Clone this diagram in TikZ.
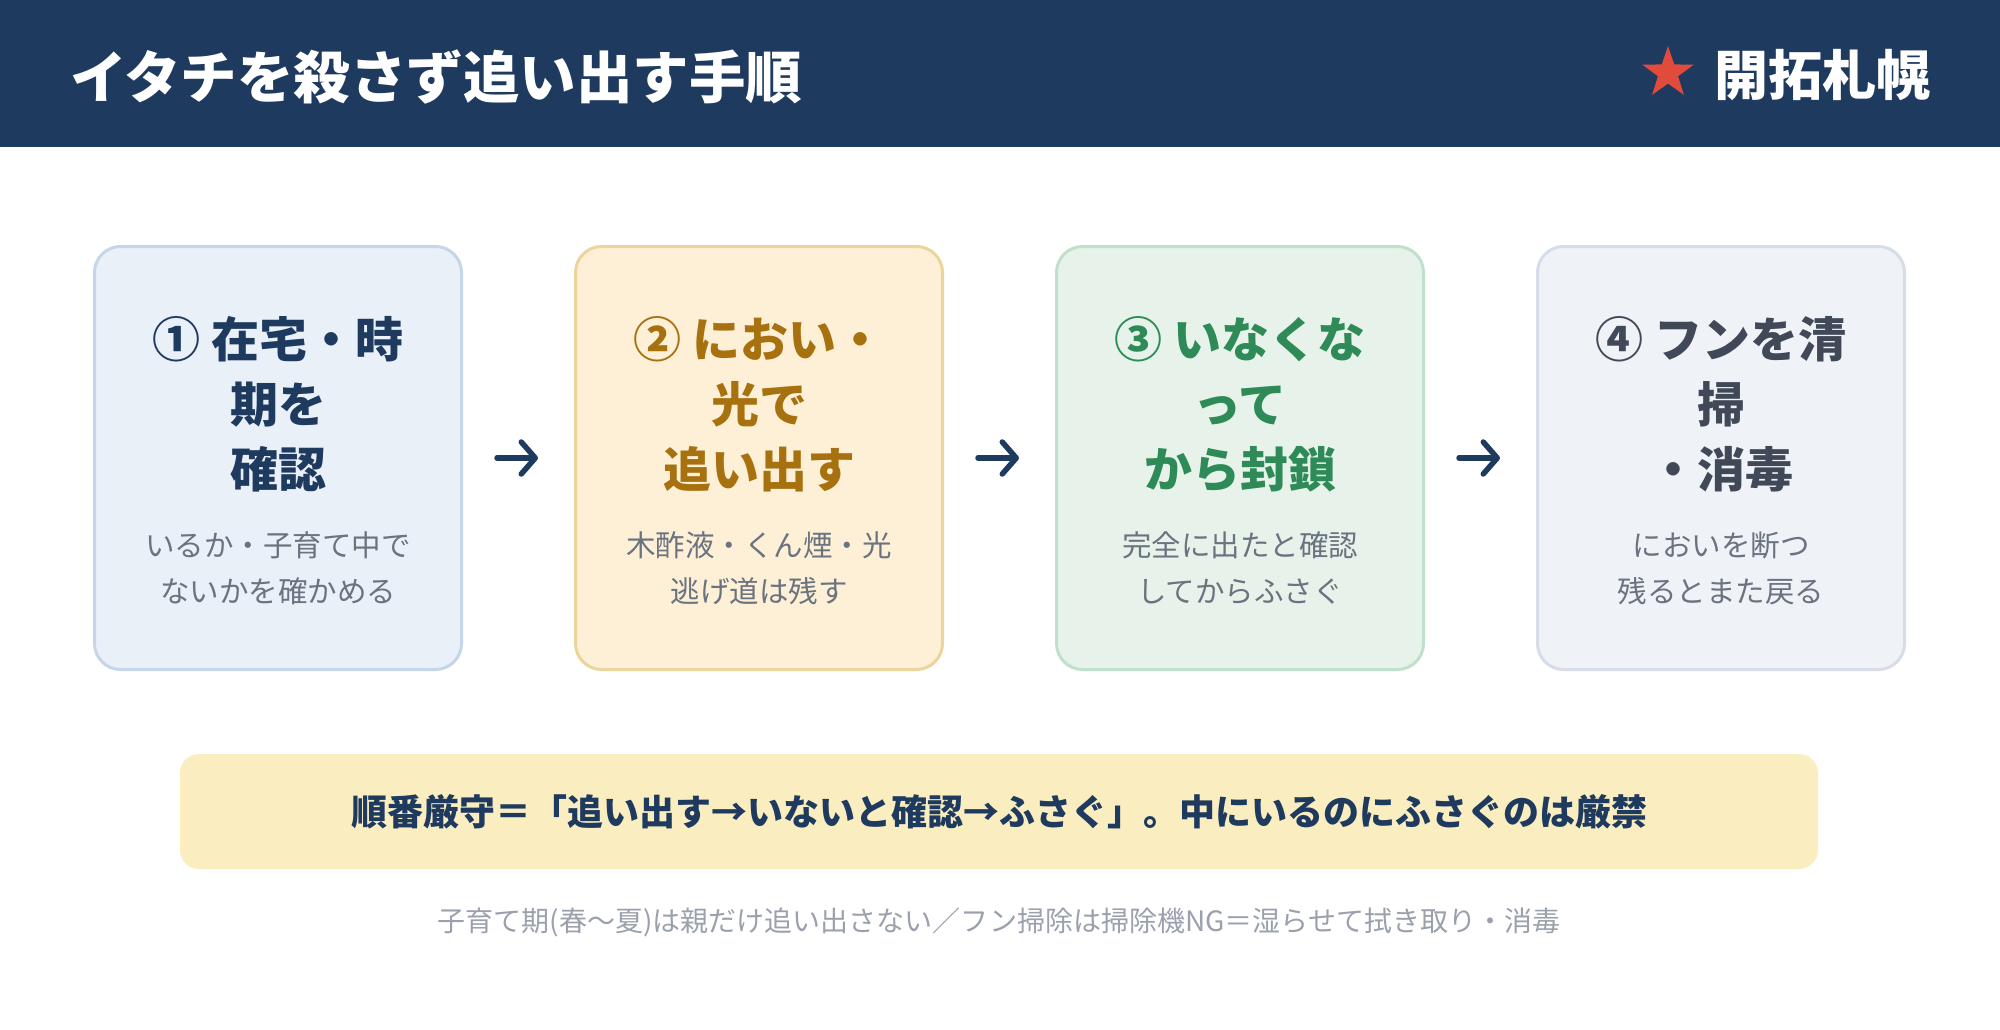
\documentclass[tikz,border=0pt]{standalone}
\usepackage{fontspec}
\setmainfont{Noto Sans CJK JP}
\usepackage{xcolor}
\usetikzlibrary{arrows.meta,positioning,shapes.geometric}
\definecolor{navy}{HTML}{1F3A5F}
\definecolor{starred}{HTML}{E04B3B}
\definecolor{subgray}{HTML}{6B7280}
\definecolor{notegray}{HTML}{9AA1AD}
\definecolor{bluebg}{HTML}{EAF0F8}
\definecolor{blueline}{HTML}{C6D6E9}
\definecolor{goldbg}{HTML}{FDF0D6}
\definecolor{goldline}{HTML}{ECD59C}
\definecolor{goldink}{HTML}{A8710F}
\definecolor{grnbg}{HTML}{E7F3EA}
\definecolor{grnline}{HTML}{BFE0CB}
\definecolor{grnink}{HTML}{2E8B57}
\definecolor{slatebg}{HTML}{EFF3F8}
\definecolor{slateline}{HTML}{D6DDE8}
\definecolor{slateink}{HTML}{414958}
\definecolor{rulebg}{HTML}{FAEDC0}
\tikzset{
  stepcard/.style n args={2}{draw=#1,fill=#2,line width=3pt,rounded corners=26pt,
                  minimum width=367pt,minimum height=423pt,inner sep=0pt},
  steptitle/.style={font=\bfseries\fontsize{48}{65}\selectfont,align=center,inner sep=0pt},
  stepnote/.style={font=\fontsize{29.5}{46}\selectfont,align=center,text=subgray,inner sep=0pt},
  flowarr/.style={-{Straight Barb[length=14pt,width=32pt,round]},line width=5.5pt,
                  line cap=round,color=navy,shorten <=34pt,shorten >=36pt},
  rulebox/.style={fill=rulebg,rounded corners=19pt,minimum width=1638pt,minimum height=115pt,
                  font=\bfseries\fontsize{36}{40}\selectfont,text=navy}
}
\begin{document}
\begin{tikzpicture}[x=1pt,y=-1pt]
  \fill[white] (0,0) rectangle (2000,1030);
  % header band
  \fill[navy] (0,0) rectangle (2000,147);
  \node[anchor=west,inner sep=0pt,text=white,font=\bfseries\fontsize{56.5}{60}\selectfont]
    (title) at (70,77) {イタチを殺さず追い出す手順};
  \node[star,star points=5,star point ratio=2.55,fill=starred,minimum size=54pt,inner sep=0pt]
    (mark) at (1668,73) {};
  \node[anchor=west,inner sep=0pt,text=white,font=\bfseries\fontsize{54}{60}\selectfont]
    (brand) at (1714,75) {開拓札幌};

  % the four steps
  \node[stepcard={blueline}{bluebg}] (b1) at (278,458) {};
  \node[stepcard={goldline}{goldbg}] (b2) at (759,458) {};
  \node[stepcard={grnline}{grnbg}] (b3) at (1240,458) {};
  \node[stepcard={slateline}{slatebg}] (b4) at (1721,458) {};

  \node[steptitle,text=navy] (t1) at (278,404) {① 在宅・時\\期を\\確認};
  \node[steptitle,text=goldink] (t2) at (759,404) {② におい・\\光で\\追い出す};
  \node[steptitle,text=grnink] (t3) at (1240,404) {③ いなくな\\って\\から封鎖};
  \node[steptitle,text=slateink] (t4) at (1721,404) {④ フンを清\\掃\\・消毒};

  \node[stepnote] (n1) at (278,568) {いるか・子育て中で\\ないかを確かめる};
  \node[stepnote] (n2) at (759,568) {木酢液・くん煙・光\\逃げ道は残す};
  \node[stepnote] (n3) at (1240,568) {完全に出たと確認\\してからふさぐ};
  \node[stepnote] (n4) at (1721,568) {においを断つ\\残るとまた戻る};

  \draw[flowarr] (b1.east) -- (b2.west);
  \draw[flowarr] (b2.east) -- (b3.west);
  \draw[flowarr] (b3.east) -- (b4.west);

  % rule and footnote
  \node[rulebox] (rule) at (999,811.5)
    {順番厳守＝「追い出す→いないと確認→ふさぐ」。中にいるのにふさぐのは厳禁};
  \node[inner sep=0pt,text=notegray,font=\fontsize{28}{32}\selectfont] (foot) at (999,922)
    {子育て期(春〜夏)は親だけ追い出さない／フン掃除は掃除機NG＝湿らせて拭き取り・消毒};
\end{tikzpicture}
\end{document}
